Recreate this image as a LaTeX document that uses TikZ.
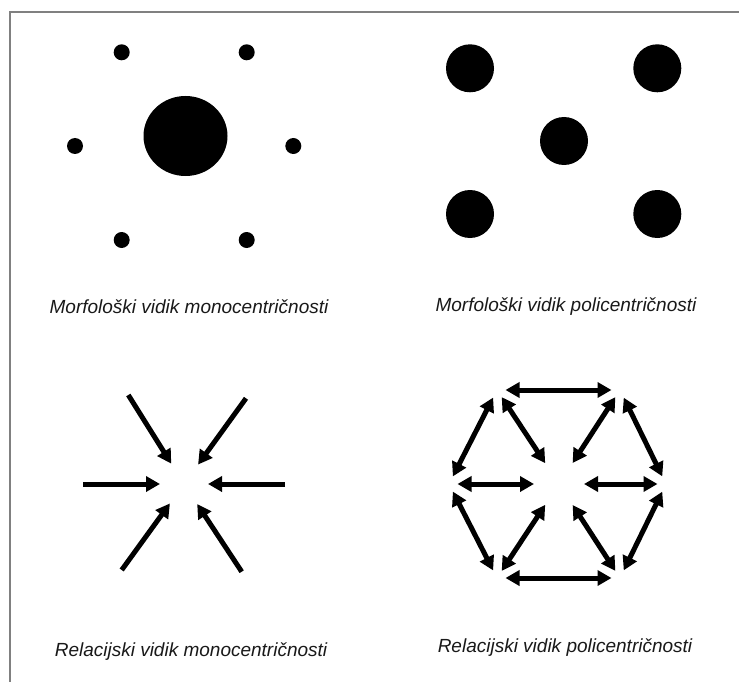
\documentclass[tikz,border=0pt]{standalone}
\usepackage{fontspec}
\setmainfont{Liberation Sans}
\usetikzlibrary{arrows.meta,shapes.geometric}
\begin{document}
\begin{tikzpicture}[x=1pt,y=-1pt,
  smalldot/.style={circle,fill=black,inner sep=0pt,minimum size=16pt},
  bigdot/.style={ellipse,fill=black,inner sep=0pt,minimum width=84pt,minimum height=80pt},
  middot/.style={circle,fill=black,inner sep=0pt,minimum size=48pt},
  caption/.style={font=\fontsize{19}{22}\selectfont\itshape,inner sep=0pt,text=black!90},
  inarrow/.style={line width=5pt,-{Triangle[length=14pt,width=15pt]},shorten >=24pt},
  dblarrow/.style={line width=5pt,{Triangle[length=14pt,width=15pt]}-{Triangle[length=14pt,width=15pt]}},
  frame/.style={draw=black!50,line width=2pt}
]
\useasboundingbox (0,0) rectangle (739,682);
\fill[white] (0,0) rectangle (739,682);
% frame (open on right and bottom)
\coordinate (fb) at (9.5,682);
\coordinate (fc) at (9.5,12);
\coordinate (fr) at (739,12);
\draw[frame] (fb) -- (fc) -- (fr);

% --- morphological monocentric
\node[bigdot] (big) at (185.5,136) {};
\node[smalldot] (m1) at (121.7,52.3) {};
\node[smalldot] (m2) at (246.7,52.3) {};
\node[smalldot] (m3) at (75,146) {};
\node[smalldot] (m4) at (293.3,146) {};
\node[smalldot] (m5) at (121.7,240) {};
\node[smalldot] (m6) at (246.7,240) {};

% --- morphological polycentric
\node[middot] (p1) at (470,68.3) {};
\node[middot] (p2) at (657.3,68.3) {};
\node[middot] (p3) at (564,141) {};
\node[middot] (p4) at (470,214) {};
\node[middot] (p5) at (657.3,214) {};

% captions
\node[caption] (c1) at (189,307) {Morfološki vidik monocentričnosti};
\node[caption] (c2) at (566,307) {Morfološki vidik policentričnosti};
\node[caption] (c3) at (191,652) {Relacijski vidik monocentričnosti};
\node[caption] (c4) at (565,648) {Relacijski vidik policentričnosti};

% --- relational monocentric
\coordinate (mc) at (184,484);
\coordinate (a1) at (128.3,395);
\coordinate (a2) at (246,398.3);
\coordinate (a3) at (83.3,484);
\coordinate (a4) at (285,484);
\coordinate (a5) at (121.7,570);
\coordinate (a6) at (241.7,571.7);
\foreach \s in {a1,a2,a3,a4,a5,a6} \draw[inarrow] (\s) -- (mc);

% --- relational polycentric
\coordinate (C) at (559,484);
\coordinate (L) at (449,484);
\coordinate (R) at (666,484);
\coordinate (TL) at (497,390);
\coordinate (TR) at (620,390);
\coordinate (BL) at (497,578);
\coordinate (BR) at (620,578);
\foreach \a/\b in {TL/TR,BL/BR,TL/L,TR/R,L/BL,R/BR}
  \draw[dblarrow,shorten <=8.5pt,shorten >=8.5pt] (\a) -- (\b);
\foreach \a in {L,R,TL,TR,BL,BR}
  \draw[dblarrow,shorten <=8.5pt,shorten >=25pt] (\a) -- (C);
\end{tikzpicture}
\end{document}
